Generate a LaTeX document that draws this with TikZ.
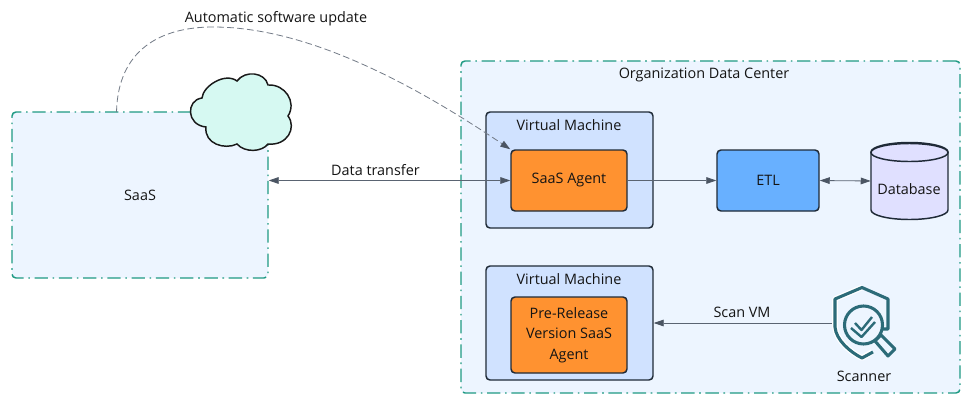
\documentclass[tikz,border=0pt]{standalone}
\usepackage{fontspec}
\setmainfont{Open Sans}
\usetikzlibrary{arrows.meta}
\definecolor{teal1}{HTML}{1F9A84}
\definecolor{zonefill}{HTML}{EDF5FF}
\definecolor{vmfill}{HTML}{D0E2FF}
\definecolor{orange1}{HTML}{FF9230}
\definecolor{blue1}{HTML}{68B0FF}
\definecolor{dbfill}{HTML}{E0E0FF}
\definecolor{cloudfill}{HTML}{D6F9F2}
\definecolor{edge1}{HTML}{1F2A37}
\definecolor{wire}{HTML}{5A6472}
\definecolor{tip1}{HTML}{4B5563}
\definecolor{iconc}{HTML}{2C6B78}
\tikzset{
  x=0.75pt,y=-0.75pt,
  every node/.style={font=\fontsize{10.8pt}{15.2pt}\selectfont,text=black!92,align=center,inner sep=0pt},
  zone/.style={draw=teal1,fill=zonefill,line width=1.1pt,rounded corners=3pt,dash pattern=on 10pt off 3.5pt on 1.2pt off 3.5pt},
  solidbox/.style={draw=edge1,line width=1.1pt,rounded corners=3pt},
  wirearrow/.style={draw=wire,line width=0.6pt},
  tipend/.style={-{Stealth[length=7.5pt,width=5pt,inset=0pt,color=tip1]}},
  tipboth/.style={{Stealth[length=7.5pt,width=5pt,inset=0pt,color=tip1]}-{Stealth[length=7.5pt,width=5pt,inset=0pt,color=tip1]}},
  lab/.style={fill=none},
  icon/.style={draw=iconc,line width=2.3pt,line join=round}
}
\begin{document}
\begin{tikzpicture}
\useasboundingbox[fill=white] (0,0) rectangle (975,408);
% zones
\node[zone,minimum width=192pt,minimum height=124.5pt] (saas) at (140,195) {SaaS};
\node[zone,minimum width=374.25pt,minimum height=249pt] (org) at (710.5,227) {};
\node (orgl) at (704,75) {Organization Data Center};
% VMs
\node[solidbox,fill=vmfill,minimum width=125.25pt,minimum height=87pt] (vma) at (569.5,170) {};
\node (vmal) at (569,125) {Virtual Machine};
\node[solidbox,fill=vmfill,minimum width=125.25pt,minimum height=85.5pt] (vmb) at (569.5,323) {};
\node (vmbl) at (569,279) {Virtual Machine};
\node[solidbox,fill=orange1,minimum width=87pt,minimum height=45.75pt] (agent) at (569,180.5) {SaaS Agent};
\node[solidbox,fill=orange1,minimum width=87pt,minimum height=57pt] (pre) at (569,335) {Pre-Release\\Version SaaS\\Agent};
\node[solidbox,fill=blue1,minimum width=76.5pt,minimum height=45.75pt] (etl) at (768,180.5) {ETL};
% database
\draw[draw=edge1,fill=dbfill,line width=1.1pt]
  (871,152) -- (871,210) arc[start angle=180,end angle=0,x radius=38.5,y radius=9.5] -- (948,152)
  arc[start angle=0,end angle=-180,x radius=38.5,y radius=9.5] -- cycle;
\draw[draw=edge1,line width=1.1pt,fill=dbfill] (909.5,152.5) ellipse[x radius=38.5,y radius=9];
\node[minimum width=57.75pt,minimum height=57pt] (db) at (909.5,181) {};
\node (dbl) at (909,189) {Database};
% cloud
\node[minimum width=77pt,minimum height=57pt] (cloud) at (241,112) {};
\draw[draw=black!90,fill=cloudfill,line width=1.1pt]
  (202,98) .. controls (203,86) and (225,72) .. (237,81)
  .. controls (245,70) and (265,72) .. (268,85)
  .. controls (285,84) and (297,102) .. (288,116)
  .. controls (297,128) and (287,146) .. (268,144)
  .. controls (262,152) and (245,153) .. (237,144)
  .. controls (225,150) and (204,144) .. (206,127)
  .. controls (186,125) and (186,100) .. (202,98) -- cycle;
% connectors
\coordinate (upstart) at (116.5,112);
\draw[wirearrow,draw=wire!85,dash pattern=on 5pt off 2.5pt,tipend]
  (upstart) .. controls (118,50) and (160,27) .. (213,27) .. controls (300,27) and (400,75) .. (agent.north west);
\draw[wirearrow,tipboth] (saas.east |- agent.west) -- (agent.west);
\draw[wirearrow,tipend] (agent.east) -- (etl.west);
\draw[wirearrow,tipboth] (etl.east) -- (db.west);
% scanner
\node[minimum width=46.5pt,minimum height=54.75pt] (scanner) at (864,323) {};
\draw[wirearrow,tipend] (scanner.west) -- (vmb.east |- scanner.west);
\begin{scope}
  \draw[icon,draw=white,line width=4.2pt] (862,287.5) -- (835,299) -- (835,327) .. controls (836,340) and (850,352) .. (862,358) -- (872,352);
  \draw[icon] (879,329) -- (888,329) -- (888,299) -- (862,287.5) -- (835,299) -- (835,327) .. controls (836,340) and (850,352) .. (862,358) -- (873,352);
  \draw[icon,fill=zonefill] (863.5,325) circle[radius=19];
  \draw[icon,line width=1.8pt] (855,323) -- (861.5,330) -- (872,317);
  \draw[icon,line width=1.8pt] (851,328) -- (861.5,337) -- (875,322);
  \draw[icon,fill=zonefill] (875,341) -- (881,335) -- (895,349) -- (888,356) -- cycle;
\end{scope}
% labels
\node[lab] (l1) at (276,19) {Automatic software update};
\node[lab] (l2) at (375.5,170) {Data transfer};
\node[lab] (l3) at (742,312) {Scan VM};
\node[lab] (l4) at (864,376) {Scanner};
\end{tikzpicture}
\end{document}
